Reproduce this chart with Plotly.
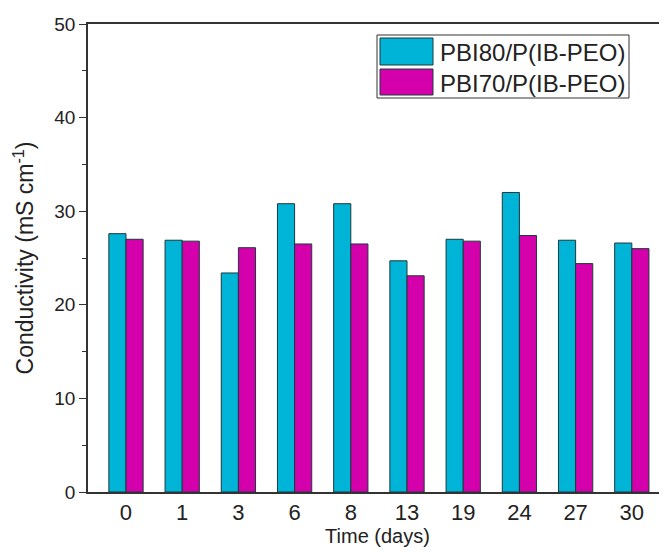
import plotly.graph_objects as go

days = ["0", "1", "3", "6", "8", "13", "19", "24", "27", "30"]
pbi80 = [27.6, 26.9, 23.4, 30.8, 30.8, 24.7, 27.0, 32.0, 26.9, 26.6]
pbi70 = [27.0, 26.8, 26.1, 26.5, 26.5, 23.1, 26.8, 27.4, 24.4, 26.0]
series_names = ["PBI80/P(IB-PEO)", "PBI70/P(IB-PEO)"]
colors = ["#00B4D8", "#D400AC"]

fig = go.Figure()
for name, vals, col in zip(series_names, [pbi80, pbi70], colors):
    fig.add_trace(go.Bar(
        x=list(range(len(days))), y=vals, name=name,
        marker=dict(color=col, line=dict(color="#1a3a3a", width=1)),
        showlegend=False,
    ))

font_family = "Liberation Sans, Arial, sans-serif"
ink = "#222"

# page has an 8px body margin: figure is drawn from (8,8)
fig.update_layout(
    width=659, height=539,
    margin=dict(l=80, r=0, t=16, b=55),
    paper_bgcolor="white", plot_bgcolor="white",
    barmode="group", bargap=0.39, bargroupgap=0,
    font=dict(family=font_family, size=16, color=ink),
    xaxis=dict(
        tickmode="array", tickvals=list(range(len(days))), ticktext=days,
        range=[-0.676, 9.626],
        showline=True, linecolor="#333", linewidth=1.5, mirror=True,
        ticks="", showgrid=False, zeroline=False,
        tickfont=dict(size=22, family=font_family, color=ink),
        title=dict(text="Time (days)", font=dict(size=20, family=font_family, color=ink), standoff=6),
    ),
    yaxis=dict(
        range=[0, 50], tickmode="linear", tick0=0, dtick=10,
        showline=True, linecolor="#333", linewidth=1.5, mirror=False,
        ticks="outside", ticklen=7, tickwidth=1.2, tickcolor="#333",
        minor=dict(ticks="outside", ticklen=4, dtick=5, tickcolor="#333", tickwidth=1.2),
        showgrid=False, zeroline=False,
        tickfont=dict(size=19, family=font_family, color=ink),
        title=dict(text="Conductivity (mS cm<sup>-1</sup>)", font=dict(size=23, family=font_family, color=ink), standoff=14),
    ),
)

# Legend drawn manually (large swatches); coordinates in page pixels
W_RIGHT = 667
def px(x):
    return (x - 88) / (W_RIGHT - 88)
def py(y):
    return 1 - (y - 24) / (492 - 24)

fig.add_shape(type="rect", xref="paper", yref="paper",
              x0=px(377), x1=px(629), y0=py(98), y1=py(35),
              line=dict(color="#333", width=1), fillcolor="white", layer="above")
rows = [(38, 65), (69, 95)]
for (ya, yb), name, col in zip(rows, series_names, colors):
    fig.add_shape(type="rect", xref="paper", yref="paper",
                  x0=px(380), x1=px(433), y0=py(yb), y1=py(ya),
                  line=dict(color="#1a3a3a", width=1), fillcolor=col, layer="above")
    fig.add_annotation(xref="paper", yref="paper", x=px(438), y=py((ya + yb) / 2 + 1),
                       text=name, showarrow=False, xanchor="left", yanchor="middle",
                       font=dict(size=24, family=font_family, color=ink))

fig.write_html("out.html")
